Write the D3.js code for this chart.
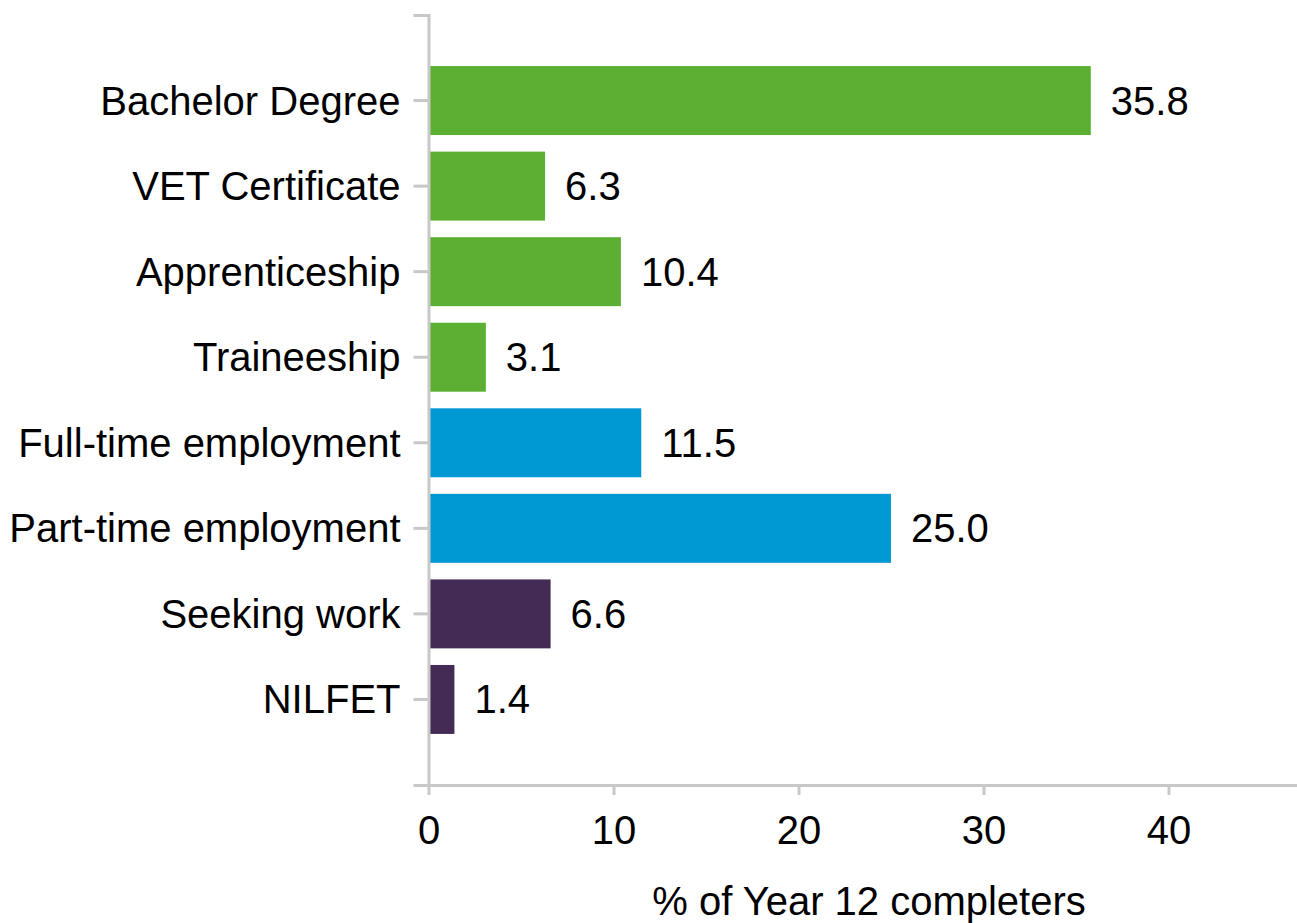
<!DOCTYPE html>
<html>
<head>
<meta charset="utf-8">
<script src="https://cdn.jsdelivr.net/npm/d3@7"></script>
<style>
  body { margin: 0; background: #fff; }
  text { font-family: "Liberation Sans", Arial, sans-serif; }
</style>
</head>
<body>
<div id="chart-area"></div>
<script>
const categories = ["Bachelor Degree", "VET Certificate", "Apprenticeship", "Traineeship",
    "Full-time employment", "Part-time employment", "Seeking work", "NILFET"];
const values = [35.8, 6.3, 10.4, 3.1, 11.5, 25.0, 6.6, 1.4];
const groups = ["study", "study", "study", "study", "work", "work", "other", "other"];
const xTicks = [0, 10, 20, 30, 40];
const xTitle = "% of Year 12 completers";

const width = 1297;
const height = 923;
const plot = {left: 428.5, right: 1298, top: 15, bottom: 785};
const axisColor = "#c8c8c8";

const colorScale = d3.scaleOrdinal()
    .domain(["study", "work", "other"])
    .range(["#5bb033", "#0099d4", "#432b55"]);

const svg = d3.select("#chart-area")
    .append("svg")
    .attr("width", width)
    .attr("height", height);

const xScale = d3.scaleLinear()
    .domain([0, 47])
    .range([plot.left, plot.right]);

const yScale = d3.scaleBand()
    .domain(categories)
    .range([plot.top, plot.bottom])
    .paddingInner(0.194)
    .paddingOuter(0.597);

// bars
svg.selectAll("rect.bar")
    .data(categories)
    .enter()
    .append("rect")
    .attr("class", "bar")
    .attr("x", xScale(0))
    .attr("y", d => yScale(d))
    .attr("width", (d, i) => xScale(values[i]) - xScale(0))
    .attr("height", yScale.bandwidth())
    .attr("fill", (d, i) => colorScale(groups[i]));

// value labels
svg.selectAll("text.value")
    .data(categories)
    .enter()
    .append("text")
    .attr("class", "value")
    .attr("x", (d, i) => xScale(values[i]) + 20)
    .attr("y", d => yScale(d) + yScale.bandwidth() / 2)
    .attr("dy", "0.35em")
    .style("font-size", "40px")
    .attr("fill", "#000")
    .text((d, i) => values[i].toFixed(1));

// x axis
const xAxis = d3.axisBottom(xScale)
    .tickValues(xTicks)
    .tickSize(10)
    .tickSizeOuter(0)
    .tickPadding(21);

const xg = svg.append("g")
    .attr("class", "x-axis")
    .attr("transform", `translate(0, ${plot.bottom})`)
    .call(xAxis);

// y axis
const yAxis = d3.axisLeft(yScale)
    .tickSize(15)
    .tickSizeOuter(15)
    .tickPadding(13);

const yg = svg.append("g")
    .attr("class", "y-axis")
    .attr("transform", `translate(${plot.left}, 0)`)
    .call(yAxis);

svg.selectAll(".x-axis path, .y-axis path, .x-axis line, .y-axis line")
    .attr("stroke", axisColor)
    .attr("stroke-width", 3);

svg.selectAll(".x-axis text, .y-axis text")
    .attr("fill", "#000")
    .style("font-size", "40px")
    .style("font-family", "'Liberation Sans', Arial, sans-serif");

svg.selectAll(".y-axis text").attr("dy", "0.35em");

// axis title
svg.append("text")
    .attr("x", 869)
    .attr("y", 915)
    .attr("text-anchor", "middle")
    .style("font-size", "40px")
    .attr("fill", "#000")
    .text(xTitle);
</script>
</body>
</html>
